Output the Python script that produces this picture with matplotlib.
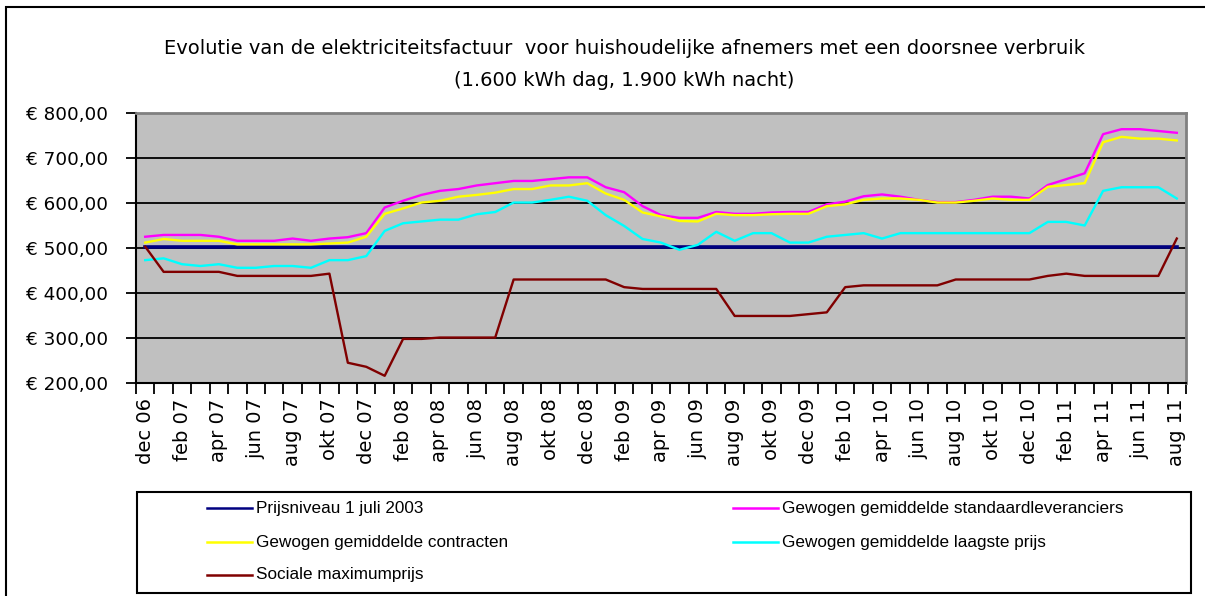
import matplotlib
matplotlib.use("Agg")
import matplotlib.pyplot as plt
from matplotlib.lines import Line2D
from matplotlib.patches import Rectangle

# months dec 06 .. aug 11
maanden = ["jan", "feb", "mrt", "apr", "mei", "jun", "jul", "aug", "sep", "okt", "nov", "dec"]
labels = ["dec 06"]
for jaar in range(7, 12):
    for m in maanden:
        labels.append(f"{m} {jaar:02d}")
labels = labels[:57]

prijsniveau = [502] * 57

standaard = [525, 529, 529, 529, 525, 516, 516, 516, 521, 516, 521, 524, 533, 590,
             605, 618, 627, 631, 639, 644, 649, 649, 653, 657, 657, 635, 624, 593,
             573, 567, 567, 580, 576, 576, 579, 580, 580, 597, 603, 615, 619, 614,
             607, 602, 602, 607, 614, 614, 610, 640, 653, 666, 753, 764, 764, 760, 756]

contracten = [512, 520, 516, 516, 516, 508, 508, 508, 508, 508, 510, 512, 525, 576,
              588, 601, 605, 614, 618, 623, 631, 631, 639, 639, 644, 621, 607, 579,
              570, 560, 559, 576, 573, 573, 575, 576, 576, 593, 597, 607, 610, 610,
              607, 601, 601, 605, 610, 607, 607, 636, 640, 644, 735, 747, 743, 743, 739]

laagste = [473, 477, 464, 460, 464, 456, 456, 460, 460, 456, 473, 473, 482, 538,
           555, 559, 563, 563, 575, 580, 601, 601, 607, 614, 605, 573, 549, 520,
           512, 496, 507, 536, 516, 533, 533, 512, 512, 525, 529, 533, 521, 533,
           533, 533, 533, 533, 533, 533, 533, 558, 558, 550, 627, 635, 635, 635, 610]

sociaal = [503, 447, 447, 447, 447, 438, 438, 438, 438, 438, 443, 245, 236, 216,
           298, 298, 301, 301, 301, 301, 430, 430, 430, 430, 430, 430, 413, 409,
           409, 409, 409, 409, 349, 349, 349, 349, 353, 357, 413, 417, 417, 417,
           417, 417, 430, 430, 430, 430, 430, 438, 443, 438, 438, 438, 438, 438, 521]

series = [
    ("Prijsniveau 1 juli 2003", prijsniveau, "#000080", 2.6),
    ("Gewogen gemiddelde standaardleveranciers", standaard, "#FF00FF", 1.7),
    ("Gewogen gemiddelde contracten", contracten, "#FFFF00", 1.7),
    ("Gewogen gemiddelde laagste prijs", laagste, "#00FFFF", 1.7),
    ("Sociale maximumprijs", sociaal, "#800000", 1.7),
]

W, H = 1205, 596
fig = plt.figure(figsize=(W / 100, H / 100), dpi=100)
ax = fig.add_axes([136 / W, 1 - 383 / H, 1050 / W, 270 / H])
ax.set_facecolor("#C0C0C0")

x = list(range(len(labels)))
for naam, waarden, kleur, lw in series:
    ax.plot(x, waarden, color=kleur, lw=lw, zorder=3)

ax.set_xlim(-0.5, len(labels) - 0.5)
ax.set_ylim(200, 800)
ax.set_yticks(range(200, 801, 100))
ax.set_yticklabels([f"€ {v},00" for v in range(200, 801, 100)])
ax.yaxis.grid(True, color="black", lw=1.3, zorder=1)
ax.set_axisbelow(True)

ax.set_xticks([i - 0.5 for i in range(len(labels) + 1)])
ax.set_xticklabels([])
ax.set_xticks(x[::2], minor=True)
ax.set_xticklabels(labels[::2], minor=True, rotation=90)
ax.tick_params(axis="x", which="major", length=8, width=1.3, direction="out")
ax.tick_params(axis="x", which="minor", length=0, pad=11, labelsize=14)
ax.tick_params(axis="y", length=7, width=1.3, pad=13, labelsize=13.2)

for s in ["left", "bottom"]:
    ax.spines[s].set_color("black")
    ax.spines[s].set_linewidth(1.5)
for s in ["top", "right"]:
    ax.spines[s].set_color("#808080")
    ax.spines[s].set_linewidth(2)

fig.text(624 / W, 1 - 48 / H,
         "Evolutie van de elektriciteitsfactuur  voor huishoudelijke afnemers met een doorsnee verbruik",
         ha="center", va="center", fontsize=14)
fig.text(624 / W, 1 - 80 / H, "(1.600 kWh dag, 1.900 kWh nacht)",
         ha="center", va="center", fontsize=14)

# outer chart border
fig.patches.append(Rectangle((6 / W, -0.05), 1.1, 1 - 7 / H + 0.05, transform=fig.transFigure,
                             fill=False, ec="black", lw=1.5))

# legend box (Excel-style, row-wise filling)
fig.patches.append(Rectangle((137 / W, 1 - 593 / H), (1191 - 137) / W, (593 - 492) / H,
                             transform=fig.transFigure, fill=False, ec="black", lw=1.5))
kol_x = [207, 733]
rij_y = [508, 542, 575]
for k, (naam, waarden, kleur, lw) in enumerate(series):
    r, c = divmod(k, 2)
    x0 = kol_x[c]
    yy = 1 - rij_y[r] / H
    fig.lines.append(Line2D([x0 / W, (x0 + 45) / W], [yy, yy], transform=fig.transFigure,
                            color=kleur, lw=1.8))
    fig.text((x0 + 49) / W, yy, naam, ha="left", va="center", fontsize=12.3,
             family="Liberation Sans")

fig.savefig("out.png", dpi=100)
